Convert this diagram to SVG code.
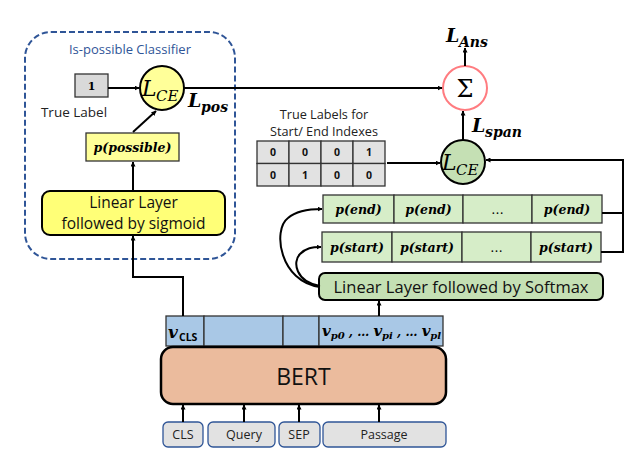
<svg xmlns="http://www.w3.org/2000/svg" width="630" height="472" viewBox="0 0 630 472">
<defs>
<marker id="ah" viewBox="0 0 10 10" refX="9" refY="5" markerWidth="5" markerHeight="5" orient="auto-start-reverse" markerUnits="userSpaceOnUse">
<path d="M0,0 L10,5 L0,10 z" fill="#000"/>
</marker>
<style>
.sans{font-family:"Open Sans","Noto Sans","Liberation Sans",sans-serif;}
.math{font-family:"DejaVu Serif","Liberation Serif",serif;font-style:italic;font-weight:bold;}
.mathr{font-family:"DejaVu Serif","Liberation Serif",serif;font-style:italic;}
.ln{stroke:#000;stroke-width:2;fill:none;}
.arr{stroke:#000;stroke-width:2;fill:none;marker-end:url(#ah);}
.cell{stroke:#333;stroke-width:1.3;}
.tok{fill:#E2E2E2;stroke:#2F5597;stroke-width:1.3;}
</style>
</defs>
<rect width="630" height="472" fill="#fff"/>

<g id="classifier">
<rect x="25" y="32" width="210" height="227" rx="26" fill="none" stroke="#2F5597" stroke-width="2" stroke-dasharray="6,3"/>
<text x="130" y="54" text-anchor="middle" class="sans" font-size="13" fill="#2F5597">Is-possible Classifier</text>
</g>

<g id="truelabel">
<rect x="75" y="74" width="33" height="23" fill="#D9D9D9" stroke="#333" stroke-width="1.3"/>
<text x="91.5" y="90" text-anchor="middle" font-family="DejaVu Serif,serif" font-weight="bold" font-size="11">1</text>
<text x="74" y="117" text-anchor="middle" class="sans" font-size="13.5" fill="#222">True Label</text>
</g>

<g id="lce1">
<circle cx="162" cy="88" r="22" fill="#FFFF99" stroke="#000" stroke-width="2"/>
<text x="142" y="96" class="mathr" font-size="22">L</text>
<text x="156" y="101" class="mathr" font-size="15">CE</text>
<text x="188" y="107" class="math" font-size="19">L</text>
<text x="201" y="112" class="math" font-size="14">pos</text>
</g>

<g id="ppossible">
<rect x="86" y="133" width="93" height="28" fill="#FFFF99" stroke="#333" stroke-width="1.3"/>
<text x="132.5" y="152" text-anchor="middle" class="math" font-size="12.5">p(possible)</text>
</g>

<g id="sigmoid">
<rect x="42" y="191" width="183" height="44" rx="8" fill="#FFFF77" stroke="#000" stroke-width="2"/>
<text x="133.5" y="207.5" text-anchor="middle" class="sans" font-size="15.5" fill="#111">Linear Layer</text>
<text x="133.5" y="228.5" text-anchor="middle" class="sans" font-size="15.5" fill="#111">followed by sigmoid</text>
</g>

<g id="sigma">
<circle cx="465" cy="88" r="22" fill="#fff" stroke="#FF7C80" stroke-width="2"/>
<text x="465" y="97" text-anchor="middle" font-family="DejaVu Serif,serif" font-size="24">Σ</text>
<text x="446" y="42" class="math" font-size="19">L</text>
<text x="459" y="47" class="math" font-size="14">Ans</text>
</g>

<g id="lce2">
<circle cx="463" cy="162" r="22" fill="#C5E0B4" stroke="#000" stroke-width="2"/>
<text x="442" y="170" class="mathr" font-size="22">L</text>
<text x="456" y="175" class="mathr" font-size="15">CE</text>
<text x="472" y="132" class="math" font-size="19">L</text>
<text x="485" y="137" class="math" font-size="14">span</text>
</g>

<g id="labels-table">
<text x="324" y="119" text-anchor="middle" class="sans" font-size="12.7" fill="#222">True Labels for</text>
<text x="324" y="136" text-anchor="middle" class="sans" font-size="12.7" fill="#222">Start/ End Indexes</text>
<g fill="#E2E2E2">
<rect x="257" y="141" width="32" height="22.5" class="cell"/>
<rect x="289" y="141" width="32" height="22.5" class="cell"/>
<rect x="321" y="141" width="32" height="22.5" class="cell"/>
<rect x="353" y="141" width="32" height="22.5" class="cell"/>
<rect x="257" y="163.5" width="32" height="22.5" class="cell"/>
<rect x="289" y="163.5" width="32" height="22.5" class="cell"/>
<rect x="321" y="163.5" width="32" height="22.5" class="cell"/>
<rect x="353" y="163.5" width="32" height="22.5" class="cell"/>
</g>
<g class="sans" font-size="10.5" font-weight="bold" text-anchor="middle" fill="#111">
<text x="273" y="156">0</text><text x="305" y="156">0</text><text x="337" y="156">0</text><text x="369" y="156">1</text>
<text x="273" y="179">0</text><text x="305" y="179">1</text><text x="337" y="179">0</text><text x="369" y="179">0</text>
</g>
</g>

<g id="pend">
<g fill="#D6EDC8">
<rect x="323" y="195" width="71" height="28" class="cell"/>
<rect x="394" y="195" width="69" height="28" class="cell"/>
<rect x="463" y="195" width="69" height="28" class="cell"/>
<rect x="532" y="195" width="70" height="28" class="cell"/>
</g>
<g class="math" font-size="12.5" text-anchor="middle">
<text x="358.5" y="214">p(end)</text>
<text x="428.5" y="214">p(end)</text>
<text x="497.5" y="214" font-style="normal" font-weight="normal">…</text>
<text x="567" y="214">p(end)</text>
</g>
</g>

<g id="pstart">
<g fill="#D6EDC8">
<rect x="322" y="232" width="70" height="30" class="cell"/>
<rect x="392" y="232" width="70" height="30" class="cell"/>
<rect x="462" y="232" width="69" height="30" class="cell"/>
<rect x="531" y="232" width="70" height="30" class="cell"/>
</g>
<g class="math" font-size="12.5" text-anchor="middle">
<text x="357" y="252">p(start)</text>
<text x="427" y="252">p(start)</text>
<text x="496.5" y="252" font-style="normal" font-weight="normal">…</text>
<text x="566" y="252">p(start)</text>
</g>
</g>

<g id="softmax">
<rect x="319" y="273" width="284" height="27" rx="6" fill="#C5E0B4" stroke="#000" stroke-width="2"/>
<text x="461" y="292.5" text-anchor="middle" class="sans" font-size="16.5" fill="#111">Linear Layer followed by Softmax</text>
</g>

<g id="vectors">
<g fill="#A9C8E6">
<rect x="166" y="316" width="38" height="30" class="cell"/>
<rect x="204" y="316" width="79" height="30" class="cell"/>
<rect x="283" y="316" width="36" height="30" class="cell"/>
<rect x="319" y="316" width="124" height="30" class="cell"/>
</g>
<text x="168" y="338" class="math" font-size="17">v</text>
<text x="179" y="341" class="sans" font-weight="bold" font-size="10.5">CLS</text>
<text x="322" y="336" class="math" font-size="15">v<tspan font-size="10" dy="3">p0</tspan><tspan dy="-3" font-size="12"> , … </tspan>v<tspan font-size="10" dy="3">pi</tspan><tspan dy="-3" font-size="12"> , … </tspan>v<tspan font-size="10" dy="3">pl</tspan></text>
</g>

<g id="bert">
<rect x="161" y="347" width="285" height="57" rx="12" fill="#EBBB9D" stroke="#000" stroke-width="2.5"/>
<text x="303.5" y="385" text-anchor="middle" class="sans" font-size="23" fill="#111">BERT</text>
</g>

<g id="tokens" class="sans" font-size="12.5" text-anchor="middle" fill="#222">
<rect x="163" y="422" width="40" height="25" rx="5" class="tok"/>
<text x="183" y="439">CLS</text>
<rect x="208" y="422" width="67" height="25" rx="5" class="tok"/>
<text x="244" y="439">Query</text>
<rect x="279" y="422" width="41" height="25" rx="5" class="tok"/>
<text x="299" y="439">SEP</text>
<rect x="323" y="422" width="123" height="25" rx="5" class="tok"/>
<text x="384" y="439">Passage</text>
</g>

<g id="connectors">
<line x1="108" y1="88" x2="139" y2="88" class="arr"/>
<line x1="133" y1="132" x2="156" y2="111" class="arr"/>
<line x1="133" y1="191" x2="133" y2="162" class="arr"/>
<polyline points="183,316 183,277 133,277 133,236" class="arr"/>
<line x1="184" y1="88" x2="442" y2="88" class="arr"/>
<line x1="465" y1="66" x2="465" y2="48" class="arr"/>
<line x1="463" y1="140" x2="463" y2="111" class="arr"/>
<line x1="387" y1="163" x2="440" y2="163" class="arr"/>
<polyline points="602,213 623,213" class="ln"/>
<polyline points="601,252 623,252 623,160 486,160" class="arr"/>
<path d="M320,287 C280,282 272,230 288,218 C296,211 308,209 322,209" class="arr"/>
<path d="M320,286 C296,282 292,262 300,254 C306,248 312,247 321,247" class="arr"/>
<line x1="379" y1="316" x2="379" y2="301" class="arr"/>
<line x1="183" y1="422" x2="183" y2="405" class="arr"/>
<line x1="244" y1="422" x2="244" y2="405" class="arr"/>
<line x1="299" y1="422" x2="299" y2="405" class="arr"/>
<line x1="379" y1="422" x2="379" y2="405" class="arr"/>
</g>
</svg>
